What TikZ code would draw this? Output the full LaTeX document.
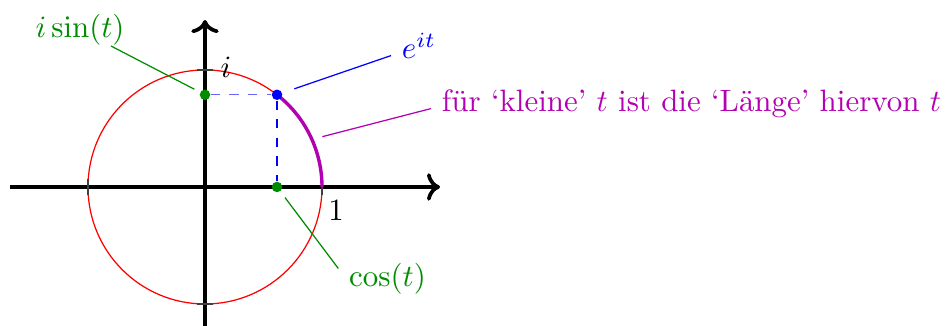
\documentclass[tikz,border=0pt]{standalone}
\usepackage{amsmath}
\usetikzlibrary{arrows.meta,calc}
\definecolor{dunkelgruen}{rgb}{0,0.55,0}
\definecolor{lila}{rgb}{0.7,0,0.7}

\begin{document}
\begin{tikzpicture}[x=1.33cm, y=1.33cm,
    achse/.style={very thick, ->},
    marke/.style={black!75, thin},
    punkt/.style={circle, fill, inner sep=0pt, minimum size=3.4pt},
    zeiger/.style={thin},
    hilf/.style={thin, dashed}
]
\useasboundingbox (-1.752,-1.188) rectangle (6.350,1.598);
% Einheitskreis und Achsen
\draw[red, thin] (0,0) circle (1);
\draw[achse] (-1.667,0) -- (2.009,0);
\draw[achse] (0,-1.25) -- (0,1.427);
\foreach \s in {1,-1} {
  \draw[marke] (\s,0) ++(0,-2.5pt) -- ++(0,5pt);
  \draw[marke] (0,\s) ++(-2.5pt,0) -- ++(5pt,0);
}
\draw[lila, line width=1.1pt] (1,0) arc[start angle=0, end angle=52, radius=1];
% Punkte
\node[punkt, blue] (e) at (52:1) {};
\node[punkt, dunkelgruen] (psin) at (0,{sin(52)}) {};
\node[punkt, dunkelgruen] (pcos) at ({cos(52)},0) {};
\coordinate (bogen) at (24:1);
\draw[hilf, blue!60] (psin) -- (e);
\draw[hilf, blue] (e) -- (pcos);
% Beschriftungen
\node (li) at (0.179,1.021) {$i$};
\node (leins) at (1.120,-0.201) {$1$};
\node[blue] (le) at (1.829,1.205) {$e^{it}$};
\node[dunkelgruen, inner sep=0pt] (lsin) at (-1.068,1.342) {$i\sin(t)$};
\node[dunkelgruen] (lcos) at (1.560,-0.786) {$\cos(t)$};
\node[lila, anchor=west] (lang) at (1.932,0.709) {für ‘kleine’ $t$ ist die ‘Länge’ hiervon $t$};
\draw[zeiger, blue, shorten <=4pt] (e) -- (le);
\draw[zeiger, dunkelgruen, shorten <=2pt] (psin) -- (lsin);
\draw[zeiger, dunkelgruen, shorten <=2.4pt] (pcos) -- (lcos.168);
\draw[zeiger, lila, shorten <=3.5pt] (bogen) -- (lang.181);
\end{tikzpicture}
\end{document}
